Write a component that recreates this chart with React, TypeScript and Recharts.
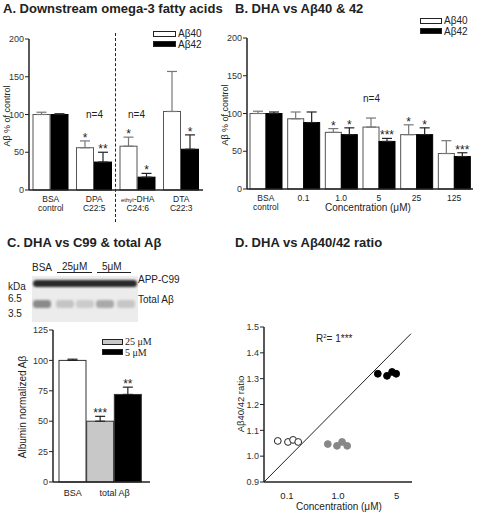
import React from 'react';
import {
  BarChart,
  Bar,
  XAxis,
  YAxis,
  ErrorBar,
  ScatterChart,
  Scatter,
  ReferenceLine,
} from 'recharts';

const FONT = '"Liberation Sans", Arial, Helvetica, sans-serif';
const INK = '#222';

// A. downstream omega-3 fatty acids
const aCats = ['BSA|control', 'DPA|C22:5', 'ethyl-DHA|C24:6', 'DTA|C22:3'];
const a40 = [100, 56, 58, 104];
const a40Err = [3, 9, 12, 53];
const a40Stars = ['', '*', '*', ''];
const a42 = [100, 37, 17, 54];
const a42Err = [1, 13, 5, 19];
const a42Stars = ['', '**', '*', '*'];

// B. DHA vs Ab40 & 42
const bCats = ['BSA|control', '0.1', '1.0', '5', '25', '125'];
const b40 = [100, 93, 75, 82, 72, 47];
const b40Err = [3, 9, 5, 12, 13, 17];
const b40Stars = ['', '', '*', '', '*', ''];
const b42 = [100, 88, 72, 63, 72, 43];
const b42Err = [2, 14, 9, 4, 9, 5];
const b42Stars = ['', '', '*', '***', '*', '***'];

// C. albumin normalized total Ab
const cCats = ['BSA', '25 μM', '5 μM'];
const cVals = [100, 50, 72];
const cErr = [1, 4, 6];
const cStars = ['', '***', '**'];
const cFills = ['#ffffff', '#c8c8c8', '#000000'];

// D. Ab40/42 ratio (x: ordinal concentration slot, jittered)
const dTickPos = [1, 2, 3.15];
const dTickLabels = ['0.1', '1.0', '5'];
const dOpenX = [0.82, 1.02, 1.12, 1.22];
const dOpenY = [1.059, 1.055, 1.063, 1.055];
const dGrayX = [1.8, 1.98, 2.08, 2.18];
const dGrayY = [1.047, 1.04, 1.055, 1.04];
const dBlackX = [2.78, 2.96, 3.06, 3.14];
const dBlackY = [1.319, 1.311, 1.326, 1.319];
const dFit = [
  { x: 0.55, y: 0.9 },
  { x: 3.43, y: 1.474 },
];

const aData = aCats.map((c, i) => ({
  cat: c,
  v40: a40[i],
  e40: [0, a40Err[i]],
  s40: a40Stars[i],
  k40: a40Err[i],
  v42: a42[i],
  e42: [0, a42Err[i]],
  s42: a42Stars[i],
  k42: a42Err[i],
}));
const bData = bCats.map((c, i) => ({
  cat: c,
  v40: b40[i],
  e40: [0, b40Err[i]],
  s40: b40Stars[i],
  k40: b40Err[i],
  v42: b42[i],
  e42: [0, b42Err[i]],
  s42: b42Stars[i],
  k42: b42Err[i],
}));
const cData = cCats.map((c, i) => ({ cat: c, v: cVals[i], e: [0, cErr[i]], s: cStars[i], k: cErr[i], fill: cFills[i] }));
const pts = (xs: number[], ys: number[]) => xs.map((x, i) => ({ x, y: ys[i] }));

// bar + significance stars placed above the error bar, using the bar's own px/unit
const starBar = (vKey: string, kKey: string, sKey: string, fill: string | null, stroke: string) => (p: any) => {
  const { x, y, width, height, payload } = p;
  const f = fill ?? payload.fill;
  const ppu = height / payload[vKey];
  const ey = y - payload[kKey] * ppu;
  return (
    <g>
      <rect x={x} y={y} width={width} height={height} fill={f} stroke={stroke} strokeWidth={1} />
      {payload[sKey] ? (
        <text x={x + width / 2} y={ey + 1} textAnchor="middle" fontSize={12} fill={INK} fontFamily={FONT}>
          {payload[sKey]}
        </text>
      ) : null}
    </g>
  );
};

const TwoLineTick = ({ x, y, payload }: any) => {
  const [l1, l2] = String(payload.value).split('|');
  const first =
    l1 === 'ethyl-DHA' ? (
      <>
        <tspan fontSize={6}>ethyl</tspan>-DHA
      </>
    ) : (
      l1
    );
  return (
    <text x={x} y={y} textAnchor="middle" fontSize={8.5} fill={INK} fontFamily={FONT}>
      <tspan x={x} dy={10}>
        {first}
      </tspan>
      {l2 ? (
        <tspan x={x} dy={9}>
          {l2}
        </tspan>
      ) : null}
    </text>
  );
};

const CTick = ({ x, y, index }: any) => {
  if (index === 2) return null;
  const label = index === 0 ? 'BSA' : 'total Aβ';
  const dx = index === 0 ? 0 : 14;
  return (
    <text x={x + dx} y={y + 12} textAnchor="middle" fontSize={9} fill={INK} fontFamily={FONT}>
      {label}
    </text>
  );
};

const dot = (fill: string, stroke: string) => (p: any) => (
  <circle cx={p.cx} cy={p.cy} r={3.4} fill={fill} stroke={stroke} strokeWidth={1} />
);

const yTick = { fontSize: 9, fill: '#333', fontFamily: FONT };
const axisLine = { stroke: INK, strokeWidth: 1.5 };

const Txt = ({ x, y, size = 10, children, style }: any) => (
  <div
    style={{
      position: 'absolute',
      left: x,
      top: y - size / 2,
      fontSize: size,
      lineHeight: `${size}px`,
      whiteSpace: 'nowrap',
      ...style,
    }}
  >
    {children}
  </div>
);

const VTxt = ({ cx, cy, size = 9, children }: any) => (
  <div
    style={{
      position: 'absolute',
      left: cx,
      top: cy,
      fontSize: size,
      lineHeight: `${size}px`,
      whiteSpace: 'nowrap',
      transform: 'translate(-50%, -50%) rotate(-90deg)',
    }}
  >
    {children}
  </div>
);

const Box = ({ x, y, w, h, fill }: any) => (
  <div
    style={{
      position: 'absolute',
      left: x,
      top: y,
      width: w,
      height: h,
      background: fill,
      border: '1px solid #222',
      boxSizing: 'border-box',
    }}
  />
);

const titleStyle: React.CSSProperties = {
  position: 'absolute',
  fontSize: 13,
  lineHeight: '13px',
  fontWeight: 'bold',
  whiteSpace: 'nowrap',
};

const serif = { fontFamily: '"Liberation Serif", "Times New Roman", serif' };

function Blot() {
  const lanes = [42, 65, 85, 105, 126];
  const lower = ['#8a8a8a', '#c4c4c4', '#cbcbcb', '#a9a9a9', '#c6c6c6'];
  return (
    <>
      <div style={{ position: 'absolute', left: 32, top: 276, width: 106, height: 46, background: '#ececec' }} />
      <div
        style={{
          position: 'absolute',
          left: 33,
          top: 280,
          width: 104,
          height: 7,
          background: '#2a2a2a',
          borderRadius: 4,
          filter: 'blur(0.8px)',
        }}
      />
      {lanes.map((cx, i) => (
        <div
          key={i}
          style={{
            position: 'absolute',
            left: cx - 9,
            top: 300,
            width: 18,
            height: 8,
            background: lower[i],
            borderRadius: 3,
            filter: 'blur(1px)',
          }}
        />
      ))}
    </>
  );
}

export default function App() {
  return (
    <div
      style={{
        position: 'absolute',
        left: 0,
        top: 0,
        width: 477,
        height: 512,
        background: '#fff',
        fontFamily: FONT,
        color: INK,
        overflow: 'hidden',
      }}
    >
      {/* titles */}
      <div style={{ ...titleStyle, left: 3, top: 2 }}>A. Downstream omega-3 fatty acids</div>
      <div style={{ ...titleStyle, left: 235, top: 2 }}>B. DHA vs Aβ40 &amp; 42</div>
      <div style={{ ...titleStyle, left: 7, top: 236 }}>C. DHA vs C99 &amp; total Aβ</div>
      <div style={{ ...titleStyle, left: 235, top: 236 }}>D. DHA vs Aβ40/42 ratio</div>

      {/* A */}
      <div style={{ position: 'absolute', left: 0, top: 0 }}>
        <BarChart width={210} height={230} data={aData} margin={{ top: 39, right: 7, bottom: 10, left: 0 }} barSize={17} barGap={1}>
          <XAxis dataKey="cat" height={30} tickLine={false} tickSize={0} axisLine={axisLine} tick={<TwoLineTick />} interval={0} />
          <YAxis domain={[0, 200]} ticks={[0, 50, 100, 150, 200]} width={29} tickSize={4} tickMargin={1} axisLine={axisLine} tickLine={{ stroke: INK }} tick={yTick} />
          <Bar dataKey="v40" isAnimationActive={false} shape={starBar('v40', 'k40', 's40', '#fff', '#555')}>
            <ErrorBar dataKey="e40" width={5} stroke="#777" strokeWidth={1.2} isAnimationActive={false} />
          </Bar>
          <Bar dataKey="v42" isAnimationActive={false} shape={starBar('v42', 'k42', 's42', '#000', '#000')}>
            <ErrorBar dataKey="e42" width={5} stroke="#222" strokeWidth={1.2} isAnimationActive={false} />
          </Bar>
        </BarChart>
      </div>
      <div style={{ position: 'absolute', left: 115, top: 33, height: 189, borderLeft: '1.5px dashed #222' }} />
      <Txt x={86} y={115}>n=4</Txt>
      <Txt x={128} y={115}>n=4</Txt>
      <Box x={153} y={31} w={23} h={6} fill="#fff" />
      <Box x={153} y={41} w={23} h={6} fill="#000" />
      <Txt x={178} y={34} size={10}>Aβ40</Txt>
      <Txt x={178} y={44.5} size={10}>Aβ42</Txt>
      <VTxt cx={7} cy={116}>Aβ % of control</VTxt>

      {/* B */}
      <div style={{ position: 'absolute', left: 217, top: 0 }}>
        <BarChart width={260} height={230} data={bData} margin={{ top: 38, right: 4, bottom: 10, left: 0 }} barSize={16} barGap={0}>
          <XAxis dataKey="cat" height={31} tickLine={false} tickSize={0} axisLine={axisLine} tick={<TwoLineTick />} interval={0} />
          <YAxis domain={[0, 200]} ticks={[0, 50, 100, 150, 200]} width={30} tickSize={4} tickMargin={1} axisLine={axisLine} tickLine={{ stroke: INK }} tick={yTick} />
          <Bar dataKey="v40" isAnimationActive={false} shape={starBar('v40', 'k40', 's40', '#fff', '#555')}>
            <ErrorBar dataKey="e40" width={5} stroke="#777" strokeWidth={1.2} isAnimationActive={false} />
          </Bar>
          <Bar dataKey="v42" isAnimationActive={false} shape={starBar('v42', 'k42', 's42', '#000', '#000')}>
            <ErrorBar dataKey="e42" width={5} stroke="#222" strokeWidth={1.2} isAnimationActive={false} />
          </Bar>
        </BarChart>
      </div>
      <Txt x={363} y={99}>n=4</Txt>
      <Box x={420} y={18} w={22} h={6} fill="#fff" />
      <Box x={420} y={28} w={22} h={6} fill="#000" />
      <Txt x={444} y={21} size={10}>Aβ40</Txt>
      <Txt x={444} y={31.5} size={10}>Aβ42</Txt>
      <Txt x={325} y={208} size={10}>Concentration (μM)</Txt>
      <VTxt cx={225} cy={115}>Aβ % of control</VTxt>

      {/* C blot */}
      <Blot />
      <Txt x={32} y={268} size={10}>BSA</Txt>
      <Txt x={62} y={267} size={10}>25μM</Txt>
      <div style={{ position: 'absolute', left: 57, top: 272, width: 35, borderTop: '1px solid #222' }} />
      <Txt x={102} y={267} size={10}>5μM</Txt>
      <div style={{ position: 'absolute', left: 97, top: 272, width: 34, borderTop: '1px solid #222' }} />
      <Txt x={138} y={280} size={10}>APP-C99</Txt>
      <Txt x={138} y={300} size={10}>Total Aβ</Txt>
      <Txt x={8} y={287} size={10}>kDa</Txt>
      <Txt x={8} y={299} size={10}>6.5</Txt>
      <Txt x={8} y={314} size={10}>3.5</Txt>

      {/* C chart */}
      <div style={{ position: 'absolute', left: 23, top: 320 }}>
        <BarChart width={132} height={187} data={cData} margin={{ top: 10, right: 5, bottom: 5, left: 0 }} barSize={27} barCategoryGap={0}>
          <XAxis dataKey="cat" height={20} tickLine={false} tickSize={0} axisLine={axisLine} tick={<CTick />} interval={0} padding={{ left: 6, right: 8 }} />
          <YAxis domain={[0, 125]} ticks={[0, 25, 50, 75, 100, 125]} width={30} tickSize={4} tickMargin={1} axisLine={axisLine} tickLine={{ stroke: INK }} tick={yTick} />
          <Bar dataKey="v" isAnimationActive={false} shape={starBar('v', 'k', 's', null, '#333')}>
            <ErrorBar dataKey="e" width={5} stroke="#222" strokeWidth={1.2} isAnimationActive={false} />
          </Bar>
        </BarChart>
      </div>
      <Box x={102} y={339} w={21} h={6} fill="#c8c8c8" />
      <Box x={102} y={349} w={21} h={6} fill="#000" />
      <Txt x={125} y={342} size={10} style={serif}>25 μM</Txt>
      <Txt x={125} y={352.5} size={10} style={serif}>5 μM</Txt>
      <VTxt cx={23} cy={407} size={10}>Albumin normalized Aβ</VTxt>

      {/* D */}
      <div style={{ position: 'absolute', left: 234, top: 300 }}>
        <ScatterChart width={188} height={207} margin={{ top: 27, right: 10, bottom: 5, left: 0 }}>
          <XAxis
            type="number"
            dataKey="x"
            domain={[0.55, 3.45]}
            ticks={dTickPos}
            tickFormatter={(v: number) => dTickLabels[dTickPos.indexOf(v)] ?? ''}
            height={20}
            tickLine={false}
            tickSize={0}
            tickMargin={10}
            axisLine={axisLine}
            tick={{ fontSize: 9.5, fill: INK, fontFamily: FONT }}
            allowDataOverflow
          />
          <YAxis
            type="number"
            dataKey="y"
            domain={[0.9, 1.5]}
            ticks={[0.9, 1.0, 1.1, 1.2, 1.3, 1.4, 1.5]}
            tickFormatter={(v: number) => v.toFixed(1)}
            width={30}
            tickSize={4}
            tickMargin={1}
            axisLine={axisLine}
            tickLine={{ stroke: INK }}
            tick={yTick}
            allowDataOverflow
          />
          <ReferenceLine segment={dFit} stroke={INK} strokeWidth={1} ifOverflow="visible" />
          <Scatter data={pts(dOpenX, dOpenY)} isAnimationActive={false} shape={dot('#fff', INK)} />
          <Scatter data={pts(dGrayX, dGrayY)} isAnimationActive={false} shape={dot('#888', '#888')} />
          <Scatter data={pts(dBlackX, dBlackY)} isAnimationActive={false} shape={dot('#000', '#000')} />
        </ScatterChart>
      </div>
      <Txt x={316} y={339} size={10}>
        R<span style={{ fontSize: 6, position: 'relative', top: -4 }}>2</span>= 1***
      </Txt>
      <Txt x={296} y={507} size={10}>Concentration (μM)</Txt>
      <VTxt cx={241} cy={404} size={9.5}>Aβ40/42 ratio</VTxt>
    </div>
  );
}
